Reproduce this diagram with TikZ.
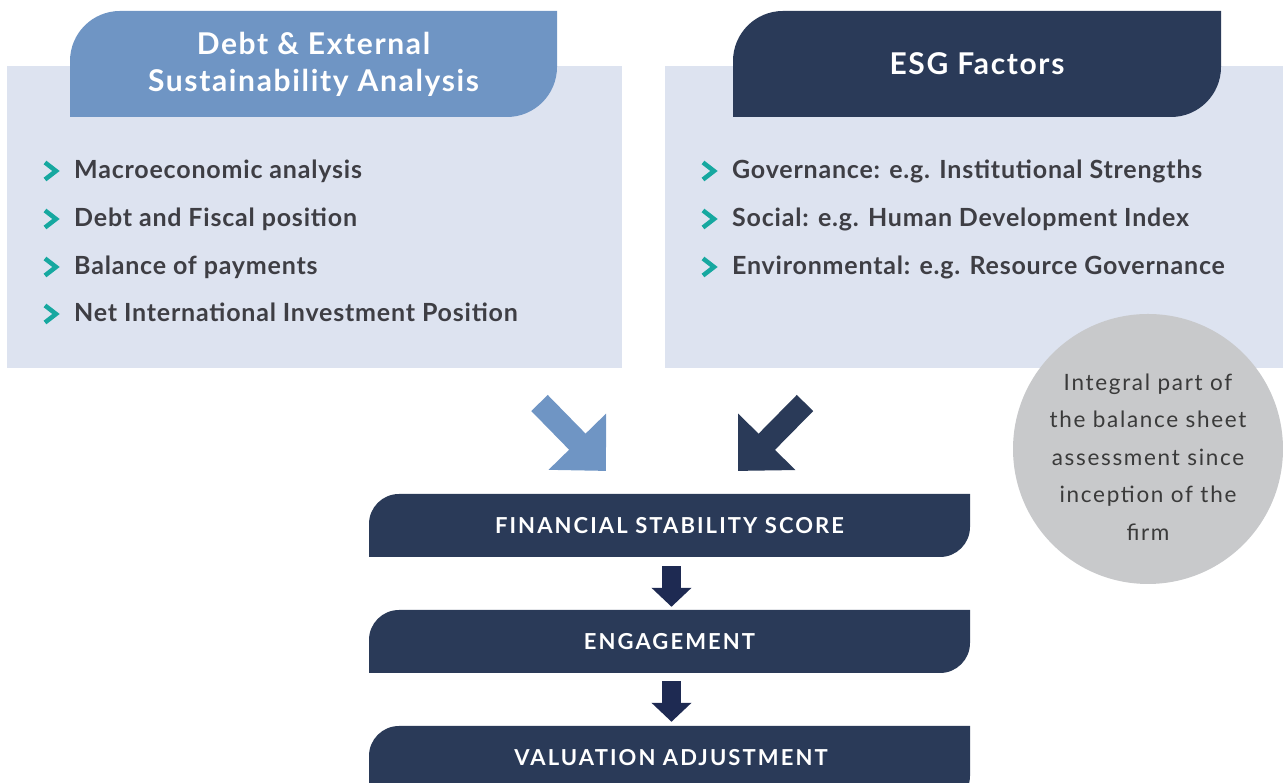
\documentclass[tikz,border=0pt]{standalone}
\usepackage{fontspec}
\setmainfont{Lato}
\newfontfamily\itemfont{Lato}[LetterSpace=3.2]
\newfontfamily\titlefont{Lato}[LetterSpace=5.5]
\newfontfamily\boxfont{Lato}[LetterSpace=9.5]
\newfontfamily\circfont{Lato}[LetterSpace=7.5]
\usetikzlibrary{arrows.meta}
\definecolor{panel}{HTML}{DDE3F0}
\definecolor{tabblue}{HTML}{6F95C4}
\definecolor{navy}{HTML}{2A3A58}
\definecolor{arrownavy}{HTML}{1E2A52}
\definecolor{chevteal}{HTML}{16A8A0}
\definecolor{textgray}{HTML}{3E3E44}
\definecolor{circgray}{HTML}{C8C9CB}
\definecolor{circtextgray}{HTML}{3A3A3A}
\begin{document}
\begin{tikzpicture}[x=1pt,y=1pt,
  panelbox/.style={fill=panel, inner sep=0pt, anchor=north west},
  roundtab/.style 2 args={rectangle, inner sep=0pt, path picture={
    \fill[#1] (path picture bounding box.south west)
      -- ([yshift=-#2]path picture bounding box.north west)
      arc[start angle=180,end angle=90,radius=#2]
      -- (path picture bounding box.north east)
      -- ([yshift=#2]path picture bounding box.south east)
      arc[start angle=0,end angle=-90,radius=#2] -- cycle;}},
  tabtext/.style={text=white, font=\titlefont\bfseries\fontsize{30}{37}\selectfont, align=center},
  boxtext/.style={text=white, font=\boxfont\bfseries\fontsize{22}{26}\selectfont},
  item/.style={anchor=base west, text=textgray, font=\itemfont\bfseries\fontsize{25}{30}\selectfont, inner sep=0pt},
  chev/.style={draw=chevteal, line width=4.5pt, miter limit=10},
  circtext/.style={text=circtextgray, font=\circfont\fontsize{22.5}{37.5}\selectfont, align=center},
  bigarrow/.style={draw=#1, line width=23pt, -{Triangle[length=41pt,width=78pt]}},
  downarrow/.style={draw=arrownavy, line width=19pt, -{Triangle[length=19pt,width=39pt]}}
]
\useasboundingbox (0,0) rectangle (1283,783);
\newcommand{\mychev}[2]{\draw[chev] (#1,#2+8.5) -- ++(11,-8.5) -- ++(-11,-8.5);}

% panels
\node[panelbox, minimum width=615pt, minimum height=302pt] (lp) at (7,717) {};
\node[panelbox, minimum width=618pt, minimum height=302pt] (rp) at (665,717) {};

% circle
\node[circle, fill=circgray, inner sep=0pt, minimum size=270pt] (circ) at (1148,334) {};
\node[circtext] (circt) at (1148,326) {Integral part of\\the balance sheet\\assessment since\\inception of the\\firm};

% tabs
\node[roundtab={tabblue}{50pt}, minimum width=487pt, minimum height=106pt, tabtext] (lt) at (313.5,719) {Debt \& External\\Sustainability Analysis};
\node[roundtab={navy}{50pt}, minimum width=488pt, minimum height=106pt, tabtext] (rt) at (977,719) {ESG Factors};

% left items
\mychev{45}{612}
\node[item] (l1) at (74,604) {Macroeconomic analysis};
\mychev{45}{564}
\node[item] (l2) at (74,556) {Debt and Fiscal position};
\mychev{45}{516}
\node[item] (l3) at (74,508) {Balance of payments};
\mychev{45}{469}
\node[item] (l4) at (74,461) {Net International Investment Position};

% right items
\mychev{703}{612}
\node[item] (r1) at (732,604) {Governance: e.g. Institutional Strengths};
\mychev{703}{564}
\node[item] (r2) at (732,556) {Social: e.g. Human Development Index};
\mychev{703}{516}
\node[item] (r3) at (732,508) {Environmental: e.g. Resource Governance};

% bottom boxes
\node[roundtab={navy}{30pt}, minimum width=601pt, minimum height=63pt, boxtext] (fss) at (669.5,257.5) {FINANCIAL STABILITY SCORE};
\node[roundtab={navy}{30pt}, minimum width=601pt, minimum height=63pt, boxtext] (eng) at (669.5,141.5) {ENGAGEMENT};
\node[roundtab={navy}{30pt}, minimum width=601pt, minimum height=80pt] (val) at (669.5,17) {};
\node[boxtext] (valt) at (671,25) {VALUATION ADJUSTMENT};

% diagonal arrows
\coordinate (d1s) at (539.5,380);
\coordinate (d1e) at (606,312);
\coordinate (d2s) at (805,380);
\coordinate (d2e) at (738,312);
\draw[bigarrow=tabblue] (d1s) -- (d1e);
\draw[bigarrow=navy] (d2s) -- (d2e);

% down arrows
\draw[downarrow, shorten <=9pt, shorten >=3pt] ([xshift=2pt]fss.south) -- ([xshift=2pt]eng.north);
\draw[downarrow, shorten <=8pt, shorten >=4pt] ([xshift=2pt]eng.south) -- ([xshift=2pt]val.north);
\end{tikzpicture}
\end{document}
